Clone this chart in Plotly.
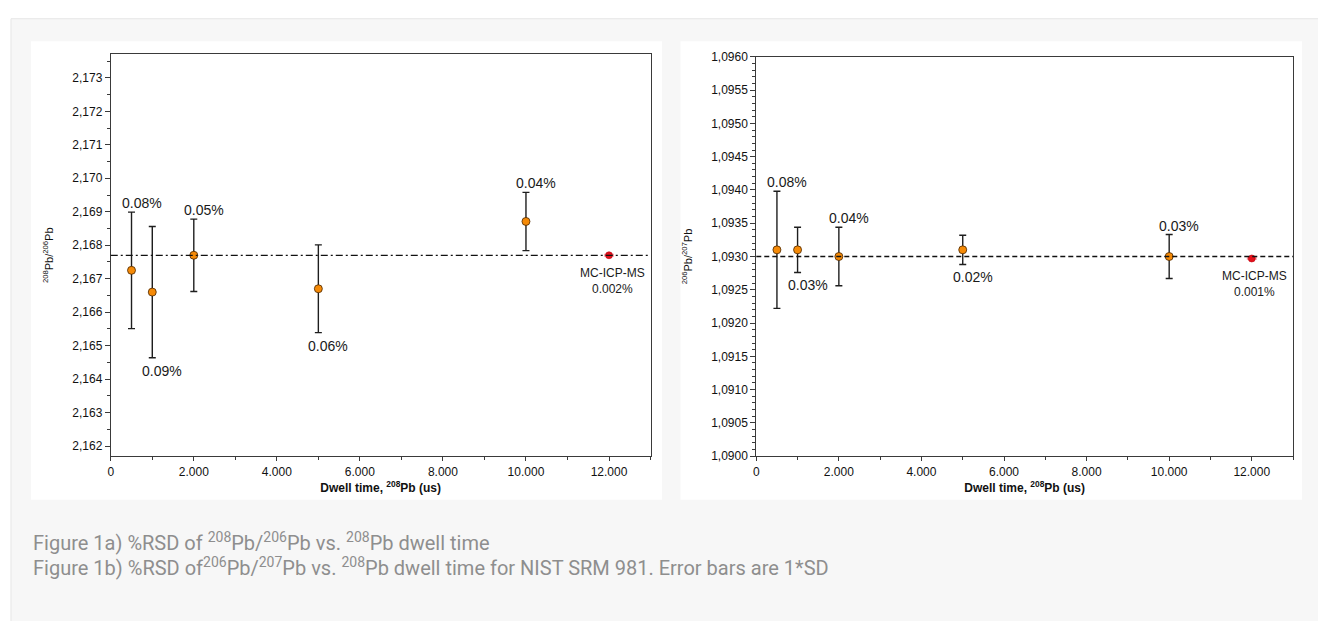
import plotly.graph_objects as go

W, H = 1318, 621

# ---------------- data ----------------
dwell = [500, 1000, 2000, 5000, 10000]

r86_mean = [2.16725, 2.16660, 2.16770, 2.16670, 2.16871]
r86_sd = [0.00174, 0.00196, 0.00108, 0.00131, 0.00087]
r86_rsd = ["0.08%", "0.09%", "0.05%", "0.06%", "0.04%"]
r86_pos = ["above", "below", "above", "below", "above"]
r86_ref = 2.1677

r67_mean = [1.09310, 1.09310, 1.09300, 1.09310, 1.09300]
r67_sd = [0.00088, 0.00034, 0.00044, 0.00022, 0.00033]
r67_rsd = ["0.08%", "0.03%", "0.04%", "0.02%", "0.03%"]
r67_pos = ["above", "below", "above", "below", "above"]
r67_ref = 1.0930

mc_x = [12000]
mc86 = [2.16770]
mc86_sd = [0.00004]
mc86_rsd = "0.002%"
mc67 = [1.09297]
mc67_sd = [0.00001]
mc67_rsd = "0.001%"

x_range = [0, 13000]
y86_range = [2.1617, 2.1737]
y67_range = [1.0900, 1.0960]

caption1 = "Figure 1a) %RSD of <sup>208</sup>Pb/<sup>206</sup>Pb vs. <sup>208</sup>Pb dwell time"
caption2 = "Figure 1b) %RSD of<sup>206</sup>Pb/<sup>207</sup>Pb vs. <sup>208</sup>Pb dwell time for NIST SRM 981. Error bars are 1*SD"

# ---------------- helpers ----------------
def px(x):
    return x / W

def py(y):
    return 1 - y / H

FONT = "Liberation Sans, Arial, Helvetica, sans-serif"
CAP_FONT = "Roboto, sans-serif"
ORANGE = "#f58a07"
RED = "#e3101a"
AX = "#3a3a3a"

fig = go.Figure()

def add_panel(xa, ya, mean, sd, mc, mcsd):
    fig.add_trace(go.Scatter(
        x=dwell, y=mean, mode="markers", xaxis=xa, yaxis=ya,
        marker=dict(size=8, color=ORANGE, line=dict(color="#4a2600", width=0.8)),
        error_y=dict(type="data", array=sd, visible=True, color="#1e1e1e",
                     thickness=1.4, width=3.5),
        showlegend=False, hoverinfo="x+y"))
    fig.add_trace(go.Scatter(
        x=mc_x, y=mc, mode="markers", xaxis=xa, yaxis=ya,
        marker=dict(size=7, color=RED, line=dict(color="#c00010", width=0.6)),
        error_x=dict(type="constant", value=120, visible=True, color="rgba(235,60,70,0.45)",
                     thickness=3, width=0),
        error_y=dict(type="data", array=mcsd, visible=True, color=RED,
                     thickness=1, width=2),
        showlegend=False, hoverinfo="x+y"))

add_panel("x", "y", r86_mean, r86_sd, mc86, mc86_sd)
add_panel("x2", "y2", r67_mean, r67_sd, mc67, mc67_sd)

annotations = []

def add_labels(xref, yref, mean, sd, labels, pos, mc, mclab):
    for xv, m, s, t, p in zip(dwell, mean, sd, labels, pos):
        if p == "above":
            annotations.append(dict(x=xv, y=m + s, xref=xref, yref=yref, text=t,
                                    showarrow=False, xanchor="center", yanchor="bottom",
                                    xshift=10, yshift=-1,
                                    font=dict(family=FONT, size=14, color="#1a1a1a")))
        else:
            annotations.append(dict(x=xv, y=m - s, xref=xref, yref=yref, text=t,
                                    showarrow=False, xanchor="center", yanchor="top",
                                    xshift=10, yshift=-3,
                                    font=dict(family=FONT, size=14, color="#1a1a1a")))
    annotations.append(dict(x=mc_x[0], y=mc[0], xref=xref, yref=yref,
                            text="MC-ICP-MS<br>" + mclab, showarrow=False,
                            xanchor="center", yanchor="top", xshift=3, yshift=-9,
                            font=dict(family=FONT, size=12, color="#1a1a1a")))

add_labels("x", "y", r86_mean, r86_sd, r86_rsd, r86_pos, mc86, mc86_rsd)
add_labels("x2", "y2", r67_mean, r67_sd, r67_rsd, r67_pos, mc67, mc67_rsd)

annotations.append(dict(x=px(28), y=py(547), xref="paper", yref="paper", text=caption1,
                        showarrow=False, xanchor="left", yanchor="middle",
                        font=dict(family=CAP_FONT, size=20, color="#8e8e8e")))
annotations.append(dict(x=px(28), y=py(573), xref="paper", yref="paper", text=caption2,
                        showarrow=False, xanchor="left", yanchor="middle",
                        font=dict(family=CAP_FONT, size=20, color="#8e8e8e")))

shapes = [
    # grey page panel
    dict(type="rect", xref="paper", yref="paper", x0=px(8), x1=px(1330), y0=py(640), y1=py(12),
         fillcolor="#f7f7f7", line=dict(color="#e6e6e6", width=1), layer="below"),
    # white chart boxes
    dict(type="rect", xref="paper", yref="paper", x0=px(28), x1=px(660.5), y0=py(504), y1=py(35),
         fillcolor="#ffffff", line=dict(width=0), layer="below"),
    dict(type="rect", xref="paper", yref="paper", x0=px(679), x1=px(1302), y0=py(504), y1=py(35),
         fillcolor="#ffffff", line=dict(width=0), layer="below"),
    # reference lines
    dict(type="line", xref="x domain", yref="y", x0=0, x1=1, y0=r86_ref, y1=r86_ref,
         line=dict(color="#111111", width=1.2, dash="7px,3px,2px,3px")),
    dict(type="line", xref="x2 domain", yref="y2", x0=0, x1=1, y0=r67_ref, y1=r67_ref,
         line=dict(color="#111111", width=1.4, dash="5px,3px")),
]

def xaxis(domain, anchor):
    return dict(domain=domain, anchor=anchor, range=x_range, tick0=0, dtick=2000,
                tickformat=",d", showgrid=False, zeroline=False,
                showline=True, linecolor=AX, linewidth=1, mirror=True,
                ticks="outside", ticklen=4, tickcolor=AX, tickwidth=1,
                minor=dict(dtick=1000, tick0=0, ticks="outside", ticklen=3, tickcolor=AX),
                tickfont=dict(family=FONT, size=12, color="#111"),
                title=dict(text="<b>Dwell time, <sup>208</sup>Pb (us)</b>",
                           font=dict(family=FONT, size=12, color="#111"), standoff=6))

def yaxis(domain, anchor, rng, tick0, dtick, mdtick, fmt, title):
    return dict(domain=domain, anchor=anchor, range=rng, tick0=tick0, dtick=dtick,
                tickformat=fmt, showgrid=False, zeroline=False,
                showline=True, linecolor=AX, linewidth=1, mirror=True,
                ticks="outside", ticklen=5, tickcolor=AX, tickwidth=1,
                minor=dict(dtick=mdtick, tick0=tick0, ticks="outside", ticklen=3, tickcolor=AX),
                tickfont=dict(family=FONT, size=12, color="#111"),
                title=dict(text=title, font=dict(family=FONT, size=11, color="#111"), standoff=16))

fig.update_layout(
    width=W, height=H, margin=dict(l=0, r=0, t=0, b=0),
    paper_bgcolor="#ffffff", plot_bgcolor="#ffffff",
    separators=",.",
    xaxis=xaxis([px(108), px(649)], "y"),
    yaxis=yaxis([py(459.5), py(48.5)], "x", y86_range, 2.162, 0.001, 0.0005, ".3f",
                "<sup>208</sup>Pb/<sup>206</sup>Pb"),
    xaxis2=xaxis([px(755), px(1293)], "y2"),
    yaxis2=yaxis([py(459.5), py(51)], "x2", y67_range, 1.09, 0.0005, 0.0001, ".4f",
                 "<sup>206</sup>Pb/<sup>207</sup>Pb"),
    annotations=annotations,
    shapes=shapes,
)

fig.write_html("out.html")
